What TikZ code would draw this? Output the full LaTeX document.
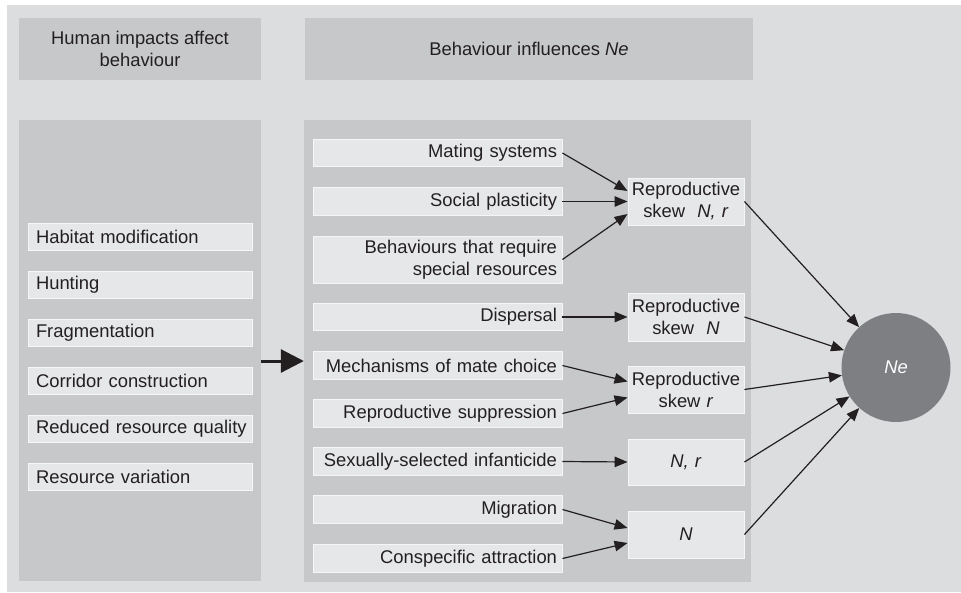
\documentclass[tikz,border=0pt]{standalone}
\usepackage{fontspec}
\setmainfont{Liberation Sans}
\usetikzlibrary{arrows.meta,calc}
\definecolor{bgc}{RGB}{220,221,223}
\definecolor{panelc}{RGB}{199,200,202}
\definecolor{boxc}{RGB}{230,231,233}
\definecolor{edgec}{RGB}{246,246,247}
\definecolor{inkc}{RGB}{35,31,32}
\definecolor{circc}{RGB}{126,127,130}
\tikzset{
  panel/.style={fill=panelc, draw=none, inner sep=0pt},
  lbox/.style={fill=boxc, draw=edgec, line width=0.9pt, minimum width=224pt, minimum height=27pt,
     text width=208pt, inner xsep=8pt, inner ysep=0pt, align=left, text=inkc},
  mbox/.style={fill=boxc, draw=edgec, line width=0.9pt, minimum width=249pt, minimum height=27.5pt,
     text width=239pt, inner xsep=5pt, inner ysep=0pt, align=right, text=inkc},
  rbox/.style={fill=boxc, draw=edgec, line width=0.9pt, minimum width=116pt, minimum height=47pt,
     text width=112pt, inner xsep=2pt, inner ysep=0pt, align=center, text=inkc},
  arr/.style={draw=inkc, line width=1.2pt, -{Triangle[length=13pt,width=10.5pt]}},
  bigarr/.style={draw=inkc, line width=3pt, -{Triangle[length=23pt,width=23pt]}},
}
\begin{document}
\begin{tikzpicture}[x=1pt,y=-1pt,font=\fontsize{18.4}{22}\selectfont]
\useasboundingbox (0,0) rectangle (961,592);
\fill[bgc] (7,5) rectangle (961,592);
% headers
\node[panel, minimum width=242pt, minimum height=62pt, text=inkc, align=center] (lh) at (140,49)
  {Human impacts affect\\behaviour};
\node[panel, minimum width=448pt, minimum height=62pt, text=inkc] (mh) at (529,49)
  {Behaviour influences \textit{Ne}};
% panels
\node[panel, minimum width=242pt, minimum height=461pt] (lp) at (140,350.5) {};
\node[panel, minimum width=447pt, minimum height=462pt] (mp) at (527.5,351) {};
% left boxes
\node[lbox] (l1) at (140,236.5) {\mbox{Habitat modification}};
\node[lbox] (l2) at (140,284.5) {\mbox{Hunting}};
\node[lbox] (l3) at (140,332.5) {\mbox{Fragmentation}};
\node[lbox] (l4) at (140,380.5) {\mbox{Corridor construction}};
\node[lbox] (l5) at (140,428.5) {\mbox{Reduced resource quality}};
\node[lbox] (l6) at (140,476.5) {\mbox{Resource variation}};
% middle boxes
\node[mbox] (m1) at (437.5,153) {Mating systems};
\node[mbox] (m2) at (437.5,201.5) {Social plasticity};
\node[mbox, minimum height=47pt] (m3) at (437.5,259.5) {Behaviours that require\\special resources};
\node[mbox] (m4) at (437.5,317) {Dispersal};
\node[mbox] (m5) at (437.5,365.5) {Mechanisms of mate choice};
\node[mbox] (m6) at (437.5,413.5) {Reproductive suppression};
\node[mbox] (m7) at (437.5,461.5) {Sexually-selected infanticide};
\node[mbox] (m8) at (437.5,509.5) {Migration};
\node[mbox] (m9) at (437.5,558.5) {Conspecific attraction};
% right boxes
\node[rbox] (r1) at (686,201.5) {Reproductive\\skew\ \ \textit{N, r}};
\node[rbox, minimum height=48pt] (r2) at (686,317) {Reproductive\\skew\ \ \textit{N}};
\node[rbox] (r3) at (686,389.5) {Reproductive\\skew \textit{r}};
\node[rbox, minimum height=46pt] (r4) at (686,462) {\textit{N, r}};
\node[rbox] (r5) at (686,534.5) {\textit{N}};
% Ne circle
\node[circle, fill=circc, draw=none, minimum size=109pt, inner sep=0pt, text=white] (ne) at (896,367.5) {\textit{Ne}};
% big arrow
\coordinate (bigy) at (0,361);
\draw[bigarr] (lp.east |- bigy) -- (mp.west |- bigy);
% middle to right arrows
\draw[arr] (m1.east) -- ([yshift=10.5pt]r1.west);
\draw[arr] (m2.east) -- (r1.west |- m2.east);
\draw[arr] (m3.east) -- ([yshift=-12.5pt]r1.west);
\draw[arr] (m4.east) -- (r2.west);
\draw[arr] (m5.east) -- ([yshift=8pt]r3.west);
\draw[arr] (m6.east) -- ([yshift=-8pt]r3.west);
\draw[arr] (m7.east) -- (r4.west);
\draw[arr] (m8.east) -- ([yshift=6.5pt]r5.west);
\draw[arr] (m9.east) -- ([yshift=-8.5pt]r5.west);
% right to Ne arrows
\draw[arr] (r1.east) -- (ne);
\draw[arr] (r2.east) -- (ne);
\draw[arr] (r3.east) -- (ne);
\draw[arr] (r4.east) -- (ne);
\draw[arr] (r5.east) -- (ne);
\end{tikzpicture}
\end{document}
